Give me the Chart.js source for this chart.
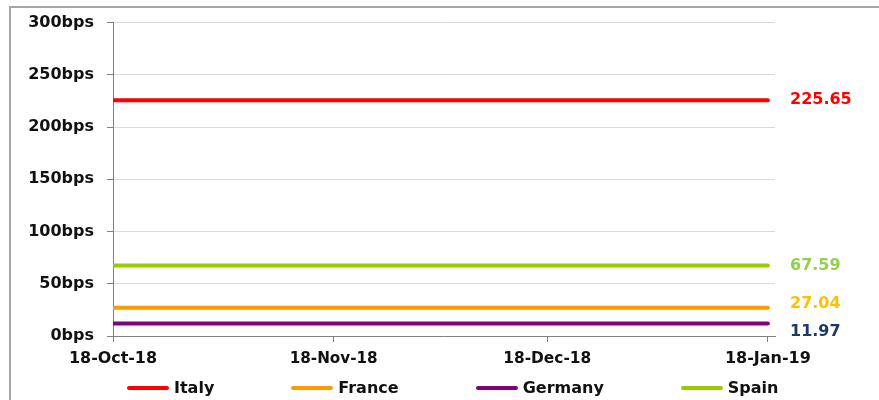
<!DOCTYPE html>
<html>
<head>
<meta charset="utf-8">
<script src="https://cdn.jsdelivr.net/npm/chart.js@4"></script>
<style>
  body { margin: 0; background: #fff; }
  #wrap { position: relative; width: 879px; height: 400px; overflow: hidden; }
  #frame { position: absolute; left: 9px; top: 6px; width: 900px; height: 420px;
           border-left: 2px solid #a6a6a6; border-top: 2px solid #a6a6a6; pointer-events: none; }
  #legend { position: absolute; left: 127px; top: 378px; display: flex; gap: 77px;
            font: bold 16px 'DejaVu Sans', sans-serif; color: #111; }
  #legend .item { display: flex; align-items: center; }
  #legend .swatch { width: 42px; height: 4px; border-radius: 2px; margin-right: 5px; }
</style>
</head>
<body>
<div id="wrap">
  <canvas id="spreadChart" width="879" height="400"></canvas>
  <div id="frame"></div>
  <div id="legend"></div>
</div>
<script>
// data
const dates = ['2018-10-18', '2018-11-18', '2018-12-18', '2019-01-18'];
const xTickLabels = ['18-Oct-18', '18-Nov-18', '18-Dec-18', '18-Jan-19'];
const yTicks = [0, 50, 100, 150, 200, 250, 300];

const seriesNames = ['Italy', 'France', 'Germany', 'Spain'];
const italy = [225.65, 225.65, 225.65, 225.65];
const france = [27.04, 27.04, 27.04, 27.04];
const germany = [11.97, 11.97, 11.97, 11.97];
const spain = [67.59, 67.59, 67.59, 67.59];

const lineColors = ['#ff0000', '#ff9900', '#800080', '#99cc00'];
const labelColors = ['#ff0000', '#ffc000', '#1f3864', '#92d050'];

const DAY = 86400000;
const start = Date.parse(dates[0]);
const toDay = (d) => Math.round((Date.parse(d) - start) / DAY);
const dayTicks = dates.map(toDay);

const allSeries = [italy, france, germany, spain];

// value labels at the right end of each line
const endLabels = {
  id: 'endLabels',
  afterDatasetsDraw(chart) {
    const { ctx, chartArea } = chart;
    const items = chart.data.datasets.map((ds, i) => {
      const pts = chart.getDatasetMeta(i).data;
      const last = ds.data[ds.data.length - 1];
      return { y: pts[pts.length - 1].y, text: last.y.toFixed(2), color: labelColors[i] };
    });
    // push close labels apart (mostly the lower one goes down)
    const sorted = [...items].sort((a, b) => a.y - b.y);
    const minGap = 28;
    for (let i = 1; i < sorted.length; i++) {
      const gap = sorted[i].y - sorted[i - 1].y;
      if (gap < minGap) {
        const d = minGap - gap;
        sorted[i - 1].y -= d / 3;
        sorted[i].y += (2 * d) / 3;
      }
    }
    ctx.save();
    ctx.font = "bold 16px 'DejaVu Sans', sans-serif";
    ctx.textBaseline = 'middle';
    ctx.textAlign = 'left';
    items.forEach((it) => {
      ctx.fillStyle = it.color;
      ctx.fillText(it.text, chartArea.right + 15, it.y);
    });
    ctx.restore();
  }
};

// date labels under the x axis (narrow, like the original)
const dateLabels = {
  id: 'dateLabels',
  afterDraw(chart) {
    const { ctx, chartArea } = chart;
    const xScale = chart.scales.x;
    ctx.save();
    ctx.font = "bold 16px 'DejaVu Sans', sans-serif";
    ctx.fillStyle = '#111';
    ctx.textAlign = 'center';
    ctx.textBaseline = 'middle';
    dayTicks.forEach((d, i) => {
      ctx.fillText(xTickLabels[i], xScale.getPixelForValue(d), chartArea.bottom + 23, 88);
    });
    ctx.restore();
  }
};

const ctx = document.getElementById('spreadChart').getContext('2d');

new Chart(ctx, {
  type: 'line',
  data: {
    datasets: seriesNames.map((name, i) => ({
      label: name,
      data: allSeries[i].map((v, j) => ({ x: toDay(dates[j]), y: v })),
      borderColor: lineColors[i],
      backgroundColor: lineColors[i],
      borderWidth: 4,
      borderCapStyle: 'round',
      pointRadius: 0,
      tension: 0
    }))
  },
  options: {
    responsive: false,
    animation: false,
    layout: { padding: { top: 20, right: 104, left: 0, bottom: 0 } },
    plugins: {
      legend: { display: false },
      tooltip: { enabled: false }
    },
    scales: {
      x: {
        type: 'linear',
        min: dayTicks[0],
        max: dayTicks[dayTicks.length - 1] + 1,
        afterBuildTicks: (scale) => { scale.ticks = dayTicks.map((v) => ({ value: v })); },
        afterFit: (scale) => { scale.height = 64; },
        ticks: { display: false },
        grid: { drawOnChartArea: false, drawTicks: true, tickLength: 6, tickColor: '#808080' },
        border: { color: '#808080', width: 1 }
      },
      y: {
        min: yTicks[0],
        max: yTicks[yTicks.length - 1],
        afterBuildTicks: (scale) => { scale.ticks = yTicks.map((v) => ({ value: v })); },
        afterFit: (scale) => { scale.width = 113; },
        ticks: {
          callback: (value) => value + 'bps',
          color: '#111',
          padding: 13,
          font: { family: "'DejaVu Sans', sans-serif", weight: 'bold', size: 16 }
        },
        grid: { color: '#d9d9d9', tickLength: 6, tickColor: '#808080' },
        border: { color: '#808080', width: 1 }
      }
    }
  },
  plugins: [endLabels, dateLabels]
});

// legend
const legend = document.getElementById('legend');
seriesNames.forEach((name, i) => {
  const item = document.createElement('div');
  item.className = 'item';
  const sw = document.createElement('span');
  sw.className = 'swatch';
  sw.style.background = lineColors[i];
  const txt = document.createElement('span');
  txt.textContent = name;
  item.appendChild(sw);
  item.appendChild(txt);
  legend.appendChild(item);
});
</script>
</body>
</html>
